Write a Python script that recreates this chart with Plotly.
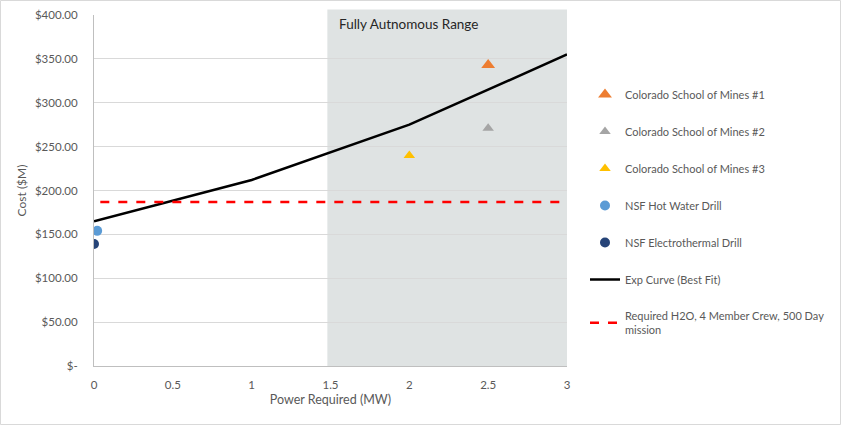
import plotly.graph_objects as go

# Data
csm1_x = [2.5]; csm1_y = [343]
csm2_x = [2.5]; csm2_y = [271]
csm3_x = [2.0]; csm3_y = [240]
nsf_hot_x = [0.02]; nsf_hot_y = [154]
nsf_elec_x = [0.0]; nsf_elec_y = [139]
exp_x = [0, 1, 2, 3]; exp_y = [165, 212, 275, 355]
req_x = [0.04, 3]; req_y = [187, 187]
shade_range = [1.48, 3.0]
y_ticks = [0, 50, 100, 150, 200, 250, 300, 350, 400]
y_ticklabels = ["$-", "$50.00", "$100.00", "$150.00", "$200.00", "$250.00", "$300.00", "$350.00", "$400.00"]
x_ticks = [0, 0.5, 1, 1.5, 2, 2.5, 3]
x_ticklabels = ["0", "0.5", "1", "1.5", "2", "2.5", "3"]

W, H = 842, 426
L, R, T, B = 94, 275, 15, 60
pw, ph = W - L - R, H - T - B

FONT = "Lato"
GRAY = "#595959"

fig = go.Figure()

def add(x, y, name, **kw):
    fig.add_trace(go.Scatter(x=x, y=y, name=name, legendgroup=name, **kw))

add(csm1_x, csm1_y, "Colorado School of Mines #1", mode="markers",
    marker=dict(symbol="triangle-up", size=12, color="#ED7D31"))
add(csm2_x, csm2_y, "Colorado School of Mines #2", mode="markers",
    marker=dict(symbol="triangle-up", size=10, color="#A5A5A5"))
add(csm3_x, csm3_y, "Colorado School of Mines #3", mode="markers",
    marker=dict(symbol="triangle-up", size=10, color="#FFC000"))
add(nsf_hot_x, nsf_hot_y, "NSF Hot Water Drill", mode="markers",
    marker=dict(symbol="circle", size=10, color="#5B9BD5"))
add(nsf_elec_x, nsf_elec_y, "NSF Electrothermal Drill", mode="markers",
    marker=dict(symbol="circle", size=10, color="#264478"))
add(exp_x, exp_y, "Exp Curve (Best Fit)", mode="lines",
    line=dict(color="black", width=2.5))
add(req_x, req_y, "Required H2O, 4 Member Crew, 500 Day<br>mission", mode="lines",
    line=dict(color="#FF0000", width=2.5, dash="dash"))

fig.add_shape(type="rect", xref="x", yref="paper",
              x0=shade_range[0], x1=shade_range[1], y0=0, y1=(H - B - 9.5) / ph,
              fillcolor="rgba(170,182,182,0.38)", line=dict(width=0), layer="between")

fig.add_annotation(xref="x", yref="paper", x=shade_range[0] + 0.06, y=(H - B - 24) / ph,
                   text="Fully Autnomous Range", showarrow=False, xanchor="left",
                   yanchor="middle", font=dict(family=FONT, size=13.5, color="#262626"))

# outer border
fig.add_shape(type="rect", xref="paper", yref="paper",
              x0=(0.5 - L) / pw, x1=(W - 1.5 - L) / pw,
              y0=(H - B - (H - 1.5)) / ph, y1=(H - B - 0.5) / ph,
              line=dict(color="#D9D9D9", width=1), fillcolor="rgba(0,0,0,0)", layer="below")

fig.update_layout(
    width=W, height=H,
    margin=dict(l=L, r=R, t=T, b=B, autoexpand=False),
    paper_bgcolor="white", plot_bgcolor="white",
    font=dict(family=FONT, size=11, color=GRAY),
    xaxis=dict(range=[0, 3], tickvals=x_ticks, ticktext=x_ticklabels,
               showgrid=False, zeroline=False, showline=True, linecolor="#BFBFBF",
               linewidth=1, ticks="", tickfont=dict(size=11.5, color=GRAY), ticklabelstandoff=8,
               title=dict(text="Power Required (MW)", font=dict(size=12.5, color=GRAY), standoff=5)),
    yaxis=dict(range=[0, 400], tickvals=y_ticks, ticktext=y_ticklabels,
               showgrid=True, gridcolor="#D9D9D9", gridwidth=1, zeroline=False,
               showline=True, linecolor="#BFBFBF", linewidth=1, ticks="",
               tickfont=dict(size=11.5, color=GRAY), ticklabelstandoff=13,
               title=dict(text="Cost ($M)", font=dict(size=12, color=GRAY), standoff=5)),
    legend=dict(x=(585 - L) / pw, y=(H - B - 80) / ph, xanchor="left", yanchor="top",
                font=dict(family=FONT, size=11, color=GRAY), tracegroupgap=18,
                bgcolor="rgba(0,0,0,0)", itemwidth=30),
    showlegend=True,
)

fig.write_html("out.html", config={"displayModeBar": False},
               post_script="document.body.style.margin='0';document.body.style.overflow='hidden';")
